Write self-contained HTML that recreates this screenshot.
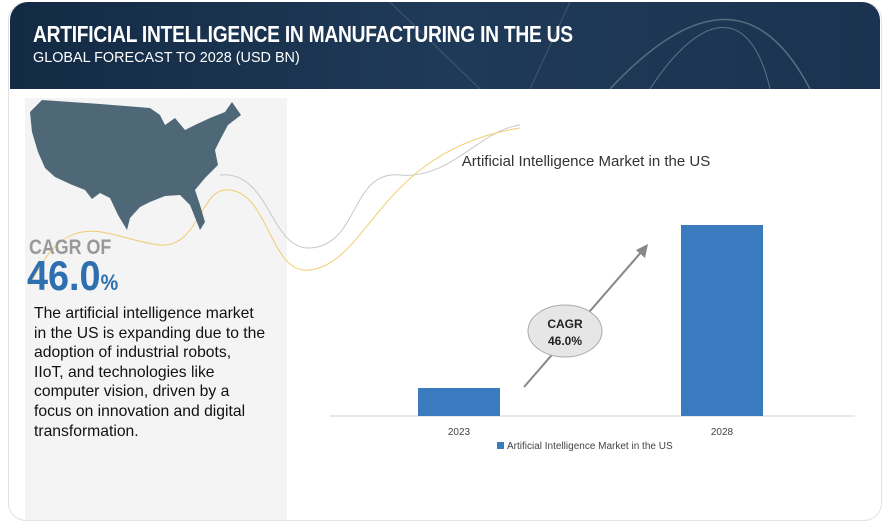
<!DOCTYPE html>
<html><head><meta charset="utf-8"><style>
body{margin:0;width:885px;height:522px;background:#fff;position:relative;overflow:hidden;font-family:"Liberation Sans",sans-serif}
.frame{position:absolute;left:8px;top:2px;width:872px;height:517px;border:1px solid #e2e2e2;border-radius:18px}
.header{position:absolute;left:10px;top:2px;width:870px;height:87px;border-radius:18px 18px 0 0;background:linear-gradient(90deg,#132a44,#1f3a58 50%,#1a3350);overflow:hidden}
.t1{position:absolute;left:23px;top:19px;color:#fff;font-size:23px;font-weight:bold;transform:scaleX(0.835);transform-origin:left;white-space:nowrap;letter-spacing:-0.3px}
.t2{position:absolute;left:23px;top:47px;color:#fff;font-size:15px;transform:scaleX(0.96);transform-origin:left;white-space:nowrap}
.left{position:absolute;left:25px;top:98px;width:262px;height:422px;background:#f4f4f4}
.cagr{position:absolute;left:29px;top:236px;color:#999;font-size:21px;font-weight:bold;transform:scaleX(0.85);transform-origin:left}
.big{position:absolute;left:27px;top:252px;color:#2e6fb0;font-size:42px;font-weight:bold;transform:scaleX(0.9);transform-origin:left}
.big span{font-size:22px}
.desc{position:absolute;left:34px;top:304px;width:250px;font-size:15.7px;line-height:19.6px;color:#111;white-space:nowrap}
</style></head><body>
<div class="frame"></div>
<div class="header">
<svg width="870" height="87" style="position:absolute;left:0;top:0">
<path d="M600,87 C700,-20 760,10 800,87" stroke="#8aa" stroke-width="1.5" fill="none" opacity=".5"/>
<path d="M640,87 C690,10 740,0 760,87" stroke="#aab" stroke-width="1" fill="none" opacity=".5"/>
<path d="M380,0 L470,87" stroke="#789" stroke-width="1" opacity=".4"/>
<path d="M560,0 L520,87" stroke="#789" stroke-width="1" opacity=".4"/>
</svg>
<div class="t1">ARTIFICIAL INTELLIGENCE IN MANUFACTURING IN THE US</div>
<div class="t2">GLOBAL FORECAST TO 2028 (USD BN)</div>
</div>
<div class="left"></div>
<svg width="885" height="522" style="position:absolute;left:0;top:0">
<path d="M220,175 C270,170 270,250 310,248 C360,245 350,170 400,175 C450,180 480,130 520,125" stroke="#c8c8c8" stroke-width="1" fill="none"/>
<path d="M30,285 C70,200 110,240 160,245 C200,248 200,185 230,190 C270,195 270,275 310,270 C370,262 380,150 520,128" stroke="#f0cc70" stroke-width="1" fill="none"/>
<path d="M42,100 L100,104 L150,108 L160,115 L165,125 L175,118 L185,130 L195,125 L210,118 L225,112 L232,102 L241,115 L228,125 L220,140 L215,150 L218,165 L205,178 L195,190 L200,205 L205,222 L200,230 L190,205 L180,195 L165,196 L150,202 L140,207 L130,218 L127,230 L118,215 L110,198 L100,193 L92,199 L85,190 L70,184 L55,177 L45,168 L38,152 L32,132 L30,112 Z" fill="#4f6878"/>
</svg>
<div class="cagr">CAGR OF</div>
<div class="big">46.0<span>%</span></div>
<div class="desc">The artificial intelligence market<br>in the US is expanding due to the<br>adoption of industrial robots,<br>IIoT, and technologies like<br>computer vision, driven by a<br>focus on innovation and digital<br>transformation.</div>
<svg id="chart" width="885" height="522" style="position:absolute;left:0;top:0"></svg>
<script>
const categories=["2023","2028"];
const values=[1.1,7.5];
const seriesName="Artificial Intelligence Market in the US";
const svg=document.getElementById('chart');
const NS="http://www.w3.org/2000/svg";
const base=416, scale=191/7.5;
const xPos=i=>459+i*263;
const yPos=v=>base-v*scale;
function mk(t,a){const e=document.createElementNS(NS,t);for(const k in a)e.setAttribute(k,a[k]);svg.appendChild(e);return e;}
let tt=mk('text',{x:586,y:166,'font-size':15,'text-anchor':'middle',fill:'#333'});tt.textContent=seriesName;


let ax=mk('line',{x1:330,x2:855,y1:base,y2:base,stroke:'#d0d0d0'});


categories.forEach((c,i)=>{
 const r=mk('rect',{x:xPos(i)-41,y:yPos(values[i]),width:82,height:base-yPos(values[i]),fill:'#3a7bbf'});
 
 
 const l=mk('text',{x:xPos(i),y:435,'font-size':10,'text-anchor':'middle',fill:'#444'});l.textContent=c;
 
 
});
let ar=mk('line',{x1:524,y1:387,x2:643,y2:250,stroke:'#888','stroke-width':2});


let ah=mk('polygon',{points:'648,244 636,250 645,258',fill:'#888'});


let el=mk('ellipse',{cx:565,cy:331,rx:37,ry:26,fill:'#e6e6e6',stroke:'#aaa'});


let c1=mk('text',{x:565,y:328,'font-size':12,'font-weight':'bold','text-anchor':'middle',fill:'#222'});c1.textContent="CAGR";


let c2=mk('text',{x:565,y:345,'font-size':12,'font-weight':'bold','text-anchor':'middle',fill:'#222'});c2.textContent="46.0%";


let lg=mk('rect',{x:497,y:442,width:7,height:7,fill:'#3a7bbf'});


let lt=mk('text',{x:507,y:449,'font-size':10,fill:'#444'});lt.textContent=seriesName;


</script>
</body></html>
